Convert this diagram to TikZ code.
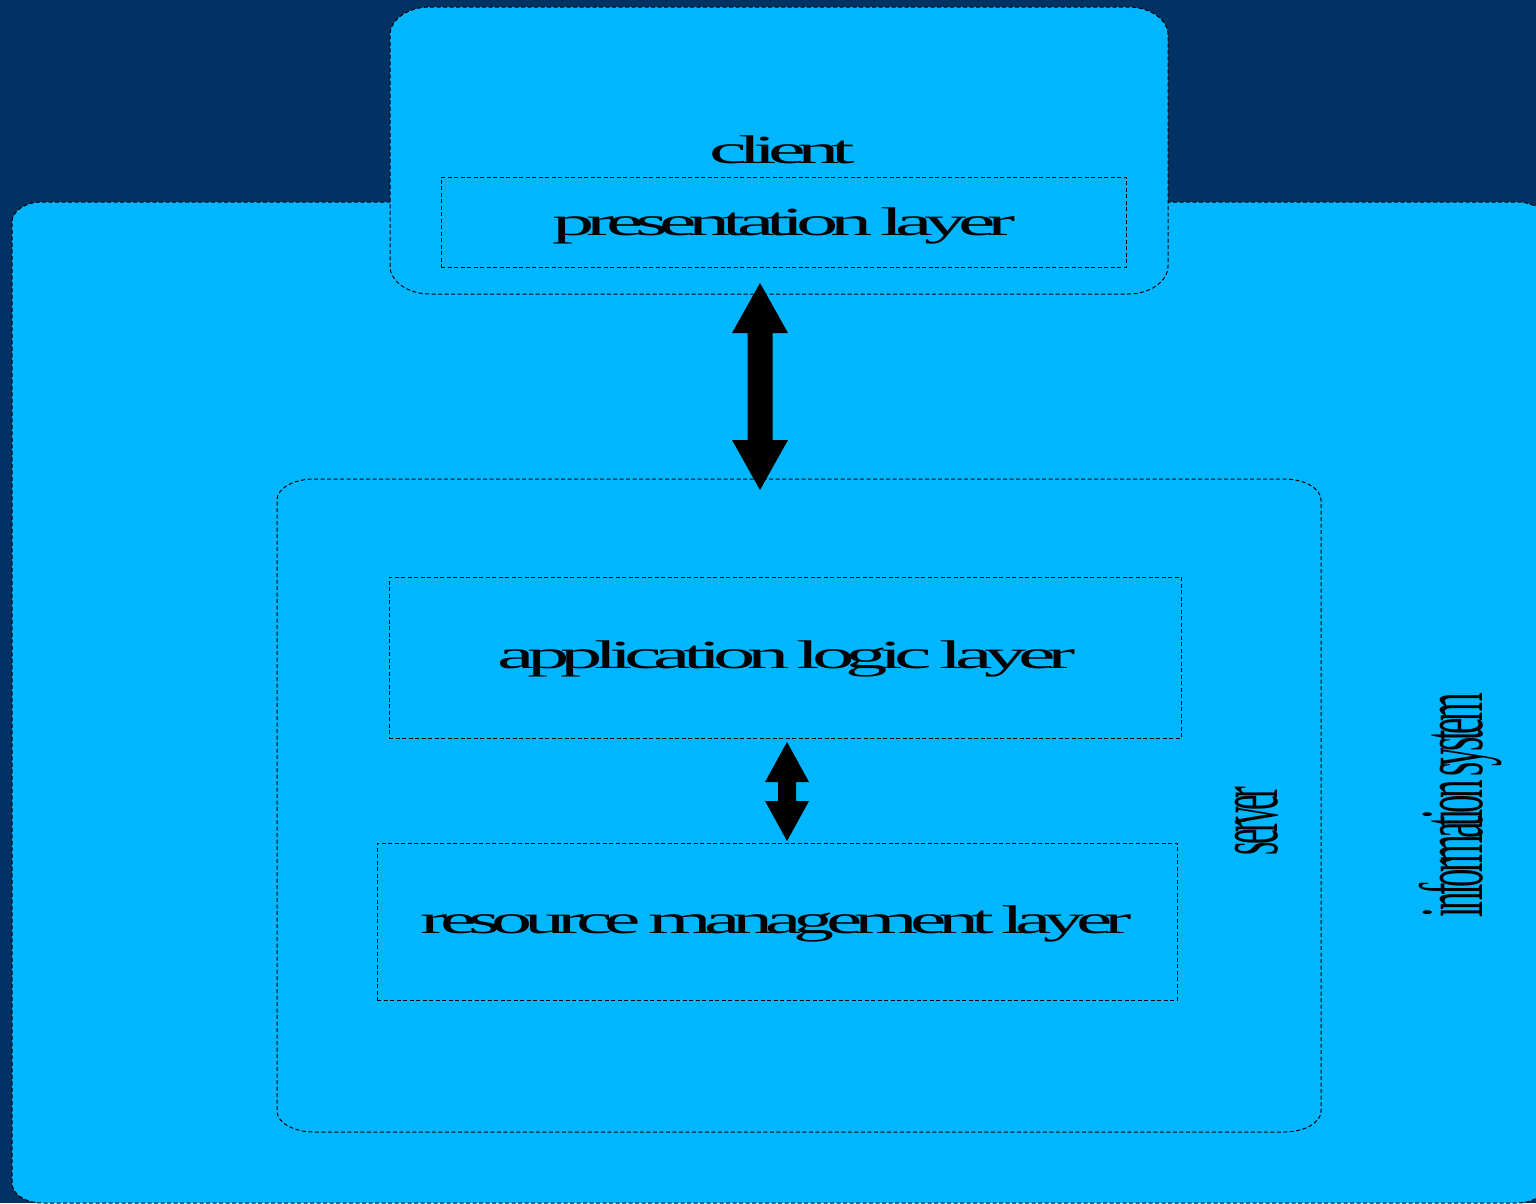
\documentclass[tikz,border=0pt]{standalone}
\usepackage{fontspec}
\setmainfont{Liberation Serif}
\newfontfamily\lblfont[LetterSpace=-10, WordSpace=0.6]{Liberation Serif}
\usetikzlibrary{calc}

\definecolor{navybg}{RGB}{0,50,100}
\definecolor{skyfill}{RGB}{0,183,255}

% box with elliptical corners: x1,y1 (top left), x2,y2 (bottom right), rx, ry
\newcommand\ellcornerbox[7][]{%
  \path[#1] ({#2+#6},#3) -- ({#4-#6},#3)
    arc[start angle=-90, end angle=0, x radius=#6, y radius=#7]
    -- (#4,{#5-#7})
    arc[start angle=0, end angle=90, x radius=#6, y radius=#7]
    -- ({#2+#6},#5)
    arc[start angle=90, end angle=180, x radius=#6, y radius=#7]
    -- (#2,{#3+#7})
    arc[start angle=180, end angle=270, x radius=#6, y radius=#7]
    -- cycle;}

% vertical double arrow between two tips: head half width, head length, shaft half width
\newcommand\fatarrow[5]{%
  \fill[arrowfill] (#1) -- ++(#3,#4) -- ++({-(#3-#5)},0) -- ($(#2)+(#5,-#4)$)
    -- ++({#3-#5},0) -- (#2) -- ++({-#3},{-#4}) -- ++({#3-#5},0)
    -- ($(#1)+(-#5,#4)$) -- ++({-(#3-#5)},0) -- cycle;}

% stretch a label to a given width, keeping its height
\newcommand\fitw[2]{\resizebox{#1}{\height}{#2}}

\tikzset{
  edge/.style={draw=black, line width=1pt, dash pattern=on 4pt off 2.5pt},
  layerbox/.style={edge, rectangle, inner sep=0pt},
  arrowfill/.style={fill=black},
  lbl/.style={inner sep=0pt, text=black, font=\lblfont\fontsize{40}{48}\selectfont},
  sidelbl/.style={inner sep=0pt, text=black, rotate=90, font=\lblfont\fontsize{90}{100}\selectfont},
}

\begin{document}
\begin{tikzpicture}[x=1pt, y=-1pt]
  \fill[navybg] (0,0) rectangle (1536,1203);
  \useasboundingbox (0,0) rectangle (1536,1203);

  % information system
  \ellcornerbox[fill=skyfill, edge]{12}{202}{1547}{1203}{30}{20}
  % server
  \ellcornerbox[edge]{277}{479}{1321}{1132}{37}{21}
  % client
  \ellcornerbox[fill=skyfill, edge]{390}{7}{1168}{294}{40}{28}

  % layers
  \node[layerbox, minimum width=685pt, minimum height=90pt] (pres) at (783.5,222) {};
  \node[layerbox, minimum width=792pt, minimum height=161pt] (app) at (785,657.5) {};
  \node[layerbox, minimum width=800pt, minimum height=157pt] (res) at (777,921.5) {};

  % arrow tips
  \coordinate (clientend) at (760,283);
  \coordinate (serverend) at (760,490);
  \coordinate (append) at (787,742);
  \coordinate (resend) at (787,841);
  \fatarrow{clientend}{serverend}{28}{50}{12.5}
  \fatarrow{append}{resend}{22}{40}{9}

  % labels
  \node[lbl, anchor=base] (clientlbl) at (782,163) {\fitw{146pt}{client}};
  \node[lbl, anchor=base] (preslbl) at (784,235) {\fitw{462pt}{presentation layer}};
  \node[lbl, anchor=base] (applbl) at (786.5,668) {\fitw{577pt}{application logic layer}};
  \node[lbl, anchor=base] (reslbl) at (776.5,933) {\fitw{711pt}{resource management layer}};
  \node[sidelbl] (serverlbl) at (1256.5,821) {\fitw{68pt}{server}};
  \node[sidelbl] (infolbl) at (1461,805) {\fitw{224pt}{information system}};
\end{tikzpicture}
\end{document}
